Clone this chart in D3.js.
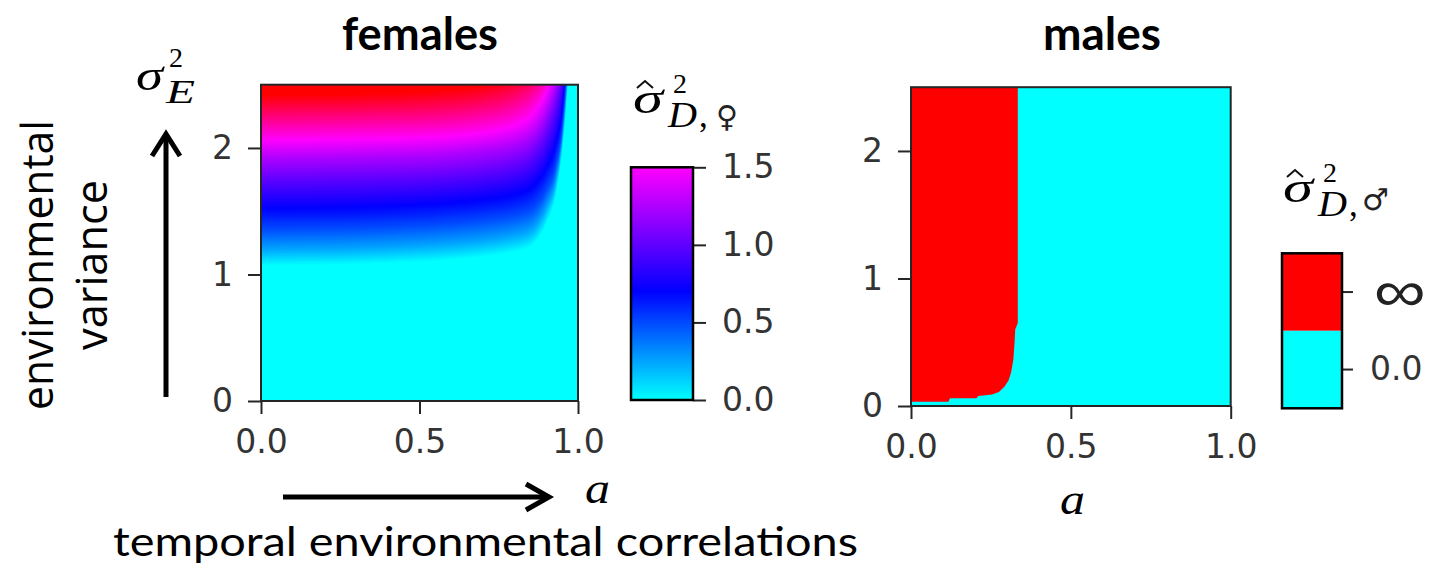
<!DOCTYPE html>
<html><head><meta charset="utf-8">
<script src="https://cdn.jsdelivr.net/npm/d3@7"></script>
<style>body{margin:0;background:#fff}</style></head>
<body>
<svg id="c" width="1433" height="574" xmlns="http://www.w3.org/2000/svg"></svg>
<script>
// ---------------- data ----------------
// females: sigma_E^2 position of each colour level at each value of a
const aKnots = [0, 0.3, 0.5, 0.7, 0.8, 0.85, 0.9, 0.93, 0.95, 0.96, 0.97, 1.0];
const femaleLevels = [0, 0.25, 0.5, 0.7, 1.0, 1.25, 1.5, 1.9, 2.3];
const femaleContours = [
  [1.07, 1.08, 1.10, 1.14, 1.18, 1.22, 1.40, 1.63, 1.98, 2.25, 2.60, 4.0],
  [1.20, 1.21, 1.23, 1.27, 1.31, 1.35, 1.53, 1.74, 2.07, 2.35, 2.70, 4.1],
  [1.36, 1.37, 1.39, 1.43, 1.47, 1.51, 1.67, 1.86, 2.16, 2.45, 2.80, 4.2],
  [1.52, 1.53, 1.55, 1.59, 1.63, 1.68, 1.84, 2.03, 2.30, 2.60, 2.90, 4.3],
  [1.75, 1.76, 1.77, 1.81, 1.86, 1.92, 2.10, 2.32, 2.55, 2.75, 3.00, 4.4],
  [1.92, 1.93, 1.94, 1.98, 2.03, 2.09, 2.28, 2.50, 2.68, 2.88, 3.10, 4.5],
  [2.06, 2.07, 2.08, 2.12, 2.18, 2.25, 2.45, 2.65, 2.82, 3.00, 3.20, 4.6],
  [2.24, 2.25, 2.26, 2.31, 2.38, 2.46, 2.62, 2.80, 2.95, 3.08, 3.25, 4.7],
  [2.42, 2.43, 2.45, 2.50, 2.58, 2.65, 2.80, 2.95, 3.05, 3.15, 3.30, 4.8]
];
const colorDomain = [0, 0.7, 1.5, 2.3];
const colorRange = ["#00ffff", "#0000ff", "#ff00ff", "#ff0000"];
const femaleCbarTicks = [0, 0.5, 1.0, 1.5];

// males: lower edge of the "infinite" (red) region
const maleA     = [0, 0.117, 0.122, 0.205, 0.21, 0.254, 0.275, 0.292, 0.305, 0.313, 0.32, 0.324, 0.326, 0.334];
const maleSigma = [0.034, 0.034, 0.06, 0.06, 0.078, 0.09, 0.11, 0.15, 0.20, 0.26, 0.36, 0.50, 0.60, 0.65];
const maleCats = ["\u221e", "0.0"];
const maleColors = ["#ff0000", "#00ffff"];

const xTicks = [0, 0.5, 1.0];
const yTicks = [0, 1, 2];

// ---------------- drawing ----------------
const svg = d3.select("#c");
const defs = svg.append("defs");
const tickFont = "'DejaVu Sans', sans-serif";
const mathFont = "'Liberation Serif', 'DejaVu Serif', serif";
const textFont = "Lato, 'Open Sans', sans-serif";

function panel(P, id) {
  const x = d3.scaleLinear().domain([0, 1]).range([P.x0, P.x1]);
  const y = d3.scaleLinear().domain([0, 2.5]).range([P.yBot, P.yTop]);
  defs.append("clipPath").attr("id", id).append("rect")
    .attr("x", P.x0).attr("y", P.yTop).attr("width", P.x1 - P.x0).attr("height", P.yBot - P.yTop);
  const g = svg.append("g").attr("clip-path", `url(#${id})`);
  return {x, y, g};
}
function axes(P, x, y) {
  const ax = svg.append("g").attr("transform", `translate(0,${P.yBot})`)
    .call(d3.axisBottom(x).tickValues(xTicks).tickFormat(d3.format(".1f")).tickSize(13).tickPadding(16));
  const ay = svg.append("g").attr("transform", `translate(${P.x0},0)`)
    .call(d3.axisLeft(y).tickValues(yTicks).tickFormat(d3.format("d")).tickSize(13).tickPadding(15));
  [ax, ay].forEach(a => {
    a.select(".domain").remove();
    a.selectAll(".tick line").attr("stroke", "#262626").attr("stroke-width", 2);
    a.selectAll(".tick text").attr("fill", "#333").style("font-family", tickFont).style("font-size", "33px");
  });
  svg.append("rect").attr("x", P.x0).attr("y", P.yTop).attr("width", P.x1 - P.x0).attr("height", P.yBot - P.yTop)
    .attr("fill", "none").attr("stroke", "#262626").attr("stroke-width", 2);
}

// ---- females ----
const FP = {x0: 261, x1: 578, yTop: 84.7, yBot: 401};
const F = panel(FP, "clipF");
const color = d3.scaleLinear().domain(colorDomain).range(colorRange);
F.g.append("rect").attr("x", FP.x0).attr("y", FP.yTop).attr("width", FP.x1 - FP.x0)
  .attr("height", FP.yBot - FP.yTop).attr("fill", color(femaleLevels[0]));
const K = 12;
const bands = [];
for (let i = 0; i < femaleLevels.length; i++) {
  if (i < femaleLevels.length - 1) {
    for (let j = 0; j < K; j++) {
      const t = j / K;
      const edge = femaleContours[i].map((v, k) => v + (femaleContours[i + 1][k] - v) * t);
      const val = femaleLevels[i] + (femaleLevels[i + 1] - femaleLevels[i]) * ((j + 0.5) / K);
      bands.push({edge, val});
    }
  } else {
    bands.push({edge: femaleContours[i], val: femaleLevels[i]});
  }
}
const fArea = d3.area()
  .x((d, k) => F.x(aKnots[k]))
  .y0(d => F.y(d))
  .y1(F.y(2.5) - 3)
  .curve(d3.curveMonotoneX);
F.g.selectAll("path.band").data(bands).join("path").attr("class", "band")
  .attr("d", d => fArea(d.edge)).attr("fill", d => color(d.val));
axes(FP, F.x, F.y);

// females colourbar
const CB = {x0: 631, x1: 693, yTop: 167.3, yBot: 400};
const yC = d3.scaleLinear().domain([0, 1.5]).range([CB.yBot, CB.yTop]);
const grad = defs.append("linearGradient").attr("id", "gradF")
  .attr("x1", 0).attr("y1", 1).attr("x2", 0).attr("y2", 0);
const stops = colorDomain.filter(d => d <= 1.5).concat([1.5]);
grad.selectAll("stop").data(stops).join("stop")
  .attr("offset", d => d / 1.5).attr("stop-color", d => color(d));
svg.append("rect").attr("x", CB.x0).attr("y", CB.yTop).attr("width", CB.x1 - CB.x0)
  .attr("height", CB.yBot - CB.yTop).attr("fill", "url(#gradF)");
const cax = svg.append("g").attr("transform", `translate(${CB.x1},0)`)
  .call(d3.axisRight(yC).tickValues(femaleCbarTicks).tickFormat(d3.format(".1f")).tickSize(13).tickPadding(16));
cax.select(".domain").remove();
cax.selectAll(".tick line").attr("stroke", "#262626").attr("stroke-width", 2);
cax.selectAll(".tick text").attr("fill", "#333").style("font-family", tickFont).style("font-size", "33px");
svg.append("rect").attr("x", CB.x0).attr("y", CB.yTop).attr("width", CB.x1 - CB.x0)
  .attr("height", CB.yBot - CB.yTop).attr("fill", "none").attr("stroke", "#000").attr("stroke-width", 2.5);

// ---- males ----
const MP = {x0: 911, x1: 1230.7, yTop: 87.2, yBot: 406};
const M = panel(MP, "clipM");
M.g.append("rect").attr("x", MP.x0).attr("y", MP.yTop).attr("width", MP.x1 - MP.x0)
  .attr("height", MP.yBot - MP.yTop).attr("fill", maleColors[1]);
const mArea = d3.area().x(d => M.x(d[0])).y0(d => M.y(d[1])).y1(M.y(2.5) - 3);
M.g.append("path").datum(d3.zip(maleA, maleSigma)).attr("d", mArea).attr("fill", maleColors[0]);
axes(MP, M.x, M.y);

// males colourbar
const MB = {x0: 1282, x1: 1342, yTop: 253.3, yBot: 408.3};
const yMB = d3.scaleBand().domain(maleCats).range([MB.yTop, MB.yBot]);
svg.selectAll("rect.mcb").data(maleCats).join("rect").attr("class", "mcb")
  .attr("x", MB.x0).attr("width", MB.x1 - MB.x0)
  .attr("y", d => yMB(d)).attr("height", yMB.bandwidth())
  .attr("fill", (d, i) => maleColors[i]);
const mcax = svg.append("g").attr("transform", `translate(${MB.x1},0)`)
  .call(d3.axisRight(yMB).tickSize(11).tickPadding(17));
mcax.select(".domain").remove();
mcax.selectAll(".tick line").attr("stroke", "#262626").attr("stroke-width", 2);
mcax.selectAll(".tick text").attr("fill", "#333").style("font-family", tickFont).style("font-size", "33px");
mcax.selectAll(".tick text").filter(d => d === "\u221e")
  .attr("fill", "#222").style("font-family", "'DejaVu Sans', sans-serif").style("font-weight", 200)
  .style("font-size", "58px").attr("dy", "0.33em").attr("x", 32)
  .attr("textLength", 52).attr("lengthAdjust", "spacingAndGlyphs");
svg.append("rect").attr("x", MB.x0).attr("y", MB.yTop).attr("width", MB.x1 - MB.x0)
  .attr("height", MB.yBot - MB.yTop).attr("fill", "none").attr("stroke", "#000").attr("stroke-width", 2.5);

// ---------------- texts ----------------
function txt(x, y, s, o) {
  const t = svg.append("text").attr("x", x).attr("y", y).text(s)
    .style("font-family", o.font || textFont).style("font-size", o.size + "px")
    .attr("fill", o.fill || "#000").attr("text-anchor", o.anchor || "start");
  if (o.weight) t.style("font-weight", o.weight);
  if (o.italic) t.style("font-style", "italic");
  if (o.len) t.attr("textLength", o.len).attr("lengthAdjust", "spacingAndGlyphs");
  if (o.rot) t.attr("transform", `rotate(${o.rot},${x},${y})`);
  return t;
}
txt(420, 50, "females", {size: 46, weight: 700, anchor: "middle", len: 156});
txt(1102, 50, "males", {size: 46, weight: 700, anchor: "middle", len: 118});
txt(113, 556, "temporal environmental correlations", {size: 40, len: 745});
txt(53, 265, "environmental", {size: 43, anchor: "middle", font: "'Open Sans', sans-serif", rot: -90, len: 290});
txt(107, 265, "variance", {size: 43, anchor: "middle", font: "'Open Sans', sans-serif", rot: -90, len: 170});

// sigma_E^2
txt(136, 90, "\u03c3", {size: 44, italic: true, font: mathFont, len: 27});
txt(169, 67, "2", {size: 28, font: mathFont});
txt(166, 103, "E", {size: 34, italic: true, font: mathFont, len: 29});
// a labels
txt(585, 503, "a", {size: 44, italic: true, font: mathFont, len: 25});
txt(1060, 514, "a", {size: 44, italic: true, font: mathFont, len: 25});

// colourbar labels
function cbLabel(x, y) {
  txt(x, y, "\u03c3", {size: 44, italic: true, font: mathFont, len: 30});
  svg.append("path").attr("d", `M${x + 4},${y - 25} L${x + 12},${y - 32} L${x + 20},${y - 25}`)
    .attr("fill", "none").attr("stroke", "#111").attr("stroke-width", 2);
  txt(x + 40, y - 20, "2", {size: 28, font: mathFont});
  txt(x + 35, y + 14, "D", {size: 35, italic: true, font: mathFont, len: 29});
  txt(x + 66, y + 14, ",", {size: 35, font: mathFont});
}
cbLabel(633, 113);
txt(716, 127, "\u2640", {size: 30, font: tickFont, fill: "#222"});
cbLabel(1283, 202);
txt(1362, 210, "\u2642", {size: 30, font: tickFont, fill: "#222"});

// arrows
function path(d) {
  svg.append("path").attr("d", d).attr("stroke", "#000").attr("stroke-width", 5).attr("fill", "none");
}
path("M166,397 L166,134");
path("M152,156 L166,134 L180,156");
path("M283,497 L548,497");
path("M526,484 L549,497 L526,510");
</script>
</body></html>
